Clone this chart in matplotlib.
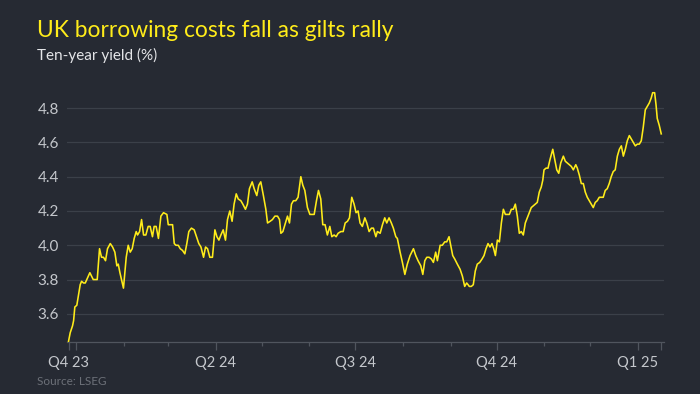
import matplotlib
matplotlib.use("Agg")
import matplotlib.pyplot as plt
import matplotlib.dates as mdates
import numpy as np
import pandas as pd

# ---- data ----
start_date = "2023-12-27"
days = [0, 1.1, 2.6, 3.3, 4.1, 5.4, 6.3, 7.6, 8.5, 9.8, 10.9, 12.4, 13.9, 15, 16.1, 17.4, 18.7, 20.2, 21.5, 22.8,
        24.1, 25.4, 27.2, 28.7, 30.2, 31.5, 32.4, 33.5, 34.5, 35.8, 36.7, 37.6, 38.9, 40.2, 41.5, 42.8, 44.1, 45,
        46.3, 47.6, 48.9, 50.4, 51.9, 53.2, 54.7, 55.8, 57.1, 58.6, 60.2, 61.9,
        64.1, 65, 66.3, 67.8, 68.9, 70, 71.5, 72.8, 74.3, 75.8, 77.1, 78.4, 80.1, 81.9, 83.4, 84.9, 86.3, 88,
        89.3, 90.6, 92.1, 93.8, 95.4, 96.7, 98, 99.3, 100.8, 102.3, 103.6, 105.1, 106.6, 107.9, 109.3, 110.6,
        112.3, 113.6, 115.3, 116.6, 117.9, 119.7, 121, 122.7, 124, 125.3, 127, 128.6,
        129.7, 131.4, 132.9, 134.5, 136.2, 137.5, 138.4, 139.7, 141, 142.7, 144, 145.3, 146.6, 148.1, 149.6,
        151.4, 152.7, 154, 155.7, 157.3, 158.8, 160.1, 161.6, 162.9, 164.4, 165.7, 167.2, 168.7, 170.3, 171.6,
        173.1, 174.4, 175.7, 177.5, 179, 180.3, 181.8, 183.1, 184.6, 186.1, 187.4, 188.7, 190, 191.5, 193.1, 194.4,
        195.9, 197.4, 198.7, 200.3, 201.3, 203.1, 204.6, 206.1, 207.4, 208.9, 210.4, 211.7, 213.3, 214.3, 216.1,
        217.6, 219.2, 220.8, 222.6, 224.8, 226.3, 227.8, 229.6, 230.9, 232.2, 233.5, 235, 236.5, 237.8, 239.3,
        240.4, 242.2, 243.6, 245.2, 246.5, 248, 249.1, 250.4, 251.7, 253.4, 255.2, 256.7, 258.2, 259.5, 260.4,
        261.2, 262.5, 263.8, 265.1, 266.4, 268, 269.5, 270.8, 272.1, 273.4, 274.7, 276, 277.1, 278.2, 279.5,
        280.8, 282.1, 283.4, 284.7, 286, 287.3, 288.6, 289.9, 291.2, 292.5, 293.8, 295.1, 296.4, 297.7, 299,
        300.3, 301.6, 302.9, 304.2, 305.5, 306.8, 308.1, 309.1, 309.9, 311.2, 312.5, 313.8, 315.6, 316.9, 318.2,
        319.5, 320.8, 322.5, 323.8,
        325.1, 326.4, 327.7, 329, 330.6, 331.6, 332.9, 334.2, 335.5, 336.8, 338.1, 339.4, 340.7, 342, 343.3,
        344.6, 345.9, 347.2, 348.5, 349.8, 351.1, 352.4, 353.7, 355, 356.3, 357.7, 359, 360.3, 361.6, 362.9,
        364.2, 365.5, 366.8, 368.1, 369.4, 370.7, 372, 373.3, 374.6, 375.9, 377.2, 378.5, 379.8, 380.7, 382,
        382.9, 383.7, 385, 386.3]
yields = [3.44, 3.49, 3.53, 3.56, 3.64, 3.65, 3.70, 3.77, 3.79, 3.78, 3.78, 3.81, 3.84, 3.82, 3.80, 3.80, 3.80,
          3.98, 3.93, 3.93, 3.91, 3.98, 4.01, 3.99, 3.96, 3.88, 3.89, 3.84, 3.80, 3.75, 3.84, 3.93, 4.00, 3.96,
          3.98, 4.04, 4.08, 4.06, 4.08, 4.15, 4.06, 4.06, 4.11, 4.11, 4.05, 4.11, 4.11, 4.04, 4.17, 4.19,
          4.18, 4.12, 4.12, 4.12, 4.01, 4.00, 4.00, 3.98, 3.97, 3.95, 4.01, 4.08, 4.10, 4.09, 4.05, 4.01, 3.99,
          3.93, 3.99, 3.98, 3.93, 3.93, 4.09, 4.05, 4.03, 4.06, 4.09, 4.03, 4.15, 4.20, 4.14, 4.24, 4.30, 4.27,
          4.26, 4.24, 4.21, 4.24, 4.33, 4.37, 4.33, 4.29, 4.35, 4.37, 4.29, 4.21,
          4.13, 4.14, 4.15, 4.17, 4.17, 4.15, 4.07, 4.08, 4.12, 4.17, 4.13, 4.24, 4.26, 4.26, 4.28, 4.40, 4.35,
          4.32, 4.22, 4.18, 4.18, 4.18, 4.26, 4.32, 4.27, 4.12, 4.12, 4.06, 4.11, 4.05, 4.06, 4.05, 4.07, 4.08,
          4.08, 4.13, 4.14, 4.16, 4.28, 4.24, 4.19, 4.20, 4.13, 4.11, 4.16, 4.13,
          4.08, 4.10, 4.10, 4.05, 4.08, 4.07, 4.12, 4.16, 4.13, 4.16, 4.13, 4.10, 4.05, 4.04, 3.96, 3.90, 3.83,
          3.89, 3.94, 3.98, 3.94, 3.91, 3.88, 3.83, 3.91, 3.93, 3.93, 3.92, 3.90, 3.96, 3.91, 4.00, 4.00, 4.02,
          4.02, 4.05, 4.00, 3.94, 3.92, 3.89, 3.86, 3.82, 3.76, 3.78, 3.77,
          3.76, 3.76, 3.77, 3.85, 3.89, 3.90, 3.92, 3.94, 3.98, 4.01, 3.99, 4.01, 3.98, 3.94, 4.03, 4.02, 4.13,
          4.21, 4.18, 4.18, 4.18, 4.21, 4.21, 4.24, 4.17, 4.07, 4.08, 4.06, 4.13, 4.16, 4.19, 4.22, 4.23, 4.24,
          4.25, 4.31, 4.34, 4.38, 4.44, 4.45, 4.45, 4.50, 4.56, 4.50, 4.44, 4.42, 4.48, 4.52, 4.49,
          4.48, 4.47, 4.46, 4.44, 4.47, 4.45, 4.41, 4.36, 4.36, 4.31, 4.28, 4.26, 4.24, 4.22, 4.25, 4.26, 4.28,
          4.28, 4.28, 4.32, 4.33, 4.36, 4.40, 4.43, 4.44, 4.52, 4.56, 4.58, 4.52, 4.56, 4.61, 4.64, 4.62, 4.60,
          4.58, 4.59, 4.59, 4.61, 4.69, 4.79, 4.81, 4.83, 4.86, 4.89, 4.89, 4.82, 4.74, 4.70, 4.65]

y_ticks = [3.6, 3.8, 4.0, 4.2, 4.4, 4.6, 4.8]
quarter_dates = ["2024-01-01", "2024-04-01", "2024-07-01", "2024-10-01", "2025-01-01"]
quarter_labels = ["", "Q2 24", "Q3 24", "Q4 24", "Q1 25"]
first_label = "Q4 23"
month_dates = ["2024-02-01", "2024-03-01", "2024-05-01", "2024-06-01", "2024-08-01",
               "2024-09-01", "2024-11-01", "2024-12-01"]

title = "UK borrowing costs fall as gilts rally"
subtitle = "Ten-year yield (%)"
source = "Source: LSEG"

# ---- styling ----
BG = "#262a33"
YELLOW = "#ffec1a"
GRID = "#3b4049"
TICKC = "#50555e"
LABELC = "#c4c7cc"

plt.rcParams["font.family"] = ["Lato", "DejaVu Sans"]

t0 = pd.Timestamp(start_date)
dates = t0 + pd.to_timedelta(np.array(days), unit="D")

fig = plt.figure(figsize=(7.0, 3.94), dpi=100, facecolor=BG)
ax = fig.add_axes([67 / 700, 1 - 342.3 / 394, (664 - 67) / 700, (342.3 - 85) / 394])
ax.set_facecolor(BG)

ax.plot(dates, yields, color=YELLOW, lw=1.15, solid_joinstyle="round", zorder=3)

ax.set_ylim(3.434, 4.935)
ax.set_xlim(t0 - pd.Timedelta(days=1.0), t0 + pd.Timedelta(days=388.1))

ax.set_yticks(y_ticks)
ax.set_yticklabels([f"{v:.1f}" for v in y_ticks])
ax.yaxis.grid(True, color=GRID, lw=0.9)
ax.tick_params(axis="y", length=0, pad=6, labelsize=11, labelcolor=LABELC)

end_date = dates[-1]
major_pos = [t0] + [pd.Timestamp(d) for d in quarter_dates] + [end_date]
major_lab = [first_label] + quarter_labels + [""]
ax.set_xticks(major_pos)
ax.set_xticklabels(major_lab)
ax.set_xticks([pd.Timestamp(d) for d in month_dates], minor=True)
ax.tick_params(axis="x", which="major", length=6, width=0.9, color=TICKC, pad=4,
               labelsize=10.5, labelcolor=LABELC)
ax.tick_params(axis="x", which="minor", length=3, width=0.9, color=TICKC)

for s in ["top", "right", "left"]:
    ax.spines[s].set_visible(False)
ax.spines["bottom"].set_color(TICKC)
ax.spines["bottom"].set_linewidth(0.9)
ax.set_axisbelow(True)

fig.text(37 / 700, 1 - 37 / 394, title, color=YELLOW, fontsize=16.4, ha="left", va="baseline")
fig.text(37 / 700, 1 - 60 / 394, subtitle, color="#e4e5e8", fontsize=11, ha="left", va="baseline")
fig.text(37 / 700, 1 - 385 / 394, source, color="#6c7078", fontsize=8.5, ha="left", va="baseline")

fig.savefig("out.png", dpi=100, facecolor=BG)
